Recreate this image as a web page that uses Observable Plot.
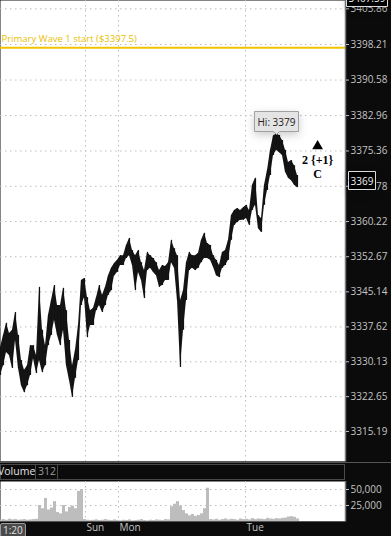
<!DOCTYPE html>
<html><head><meta charset="utf-8">
<script src="https://cdn.jsdelivr.net/npm/d3@7"></script>
<script src="https://cdn.jsdelivr.net/npm/@observablehq/plot@0.6"></script>
<style>
html,body{margin:0;padding:0;background:#0b0b0b;}
#wrap{position:relative;width:391px;height:536px;overflow:hidden;font-family:"Open Sans",sans-serif;}
#wrap svg{display:block;}
#volbar{position:relative;height:19px;background:#0b0b0b;border-top:1px solid #555;box-sizing:border-box;}
#volbar .box{position:absolute;left:0;top:1px;width:345px;height:16px;border:1px solid #4a4a4a;box-sizing:border-box;}
#volbar .name{position:absolute;left:-2px;top:0px;font-size:10.5px;line-height:16px;color:#e0e0e0;}
#volbar .sep{position:absolute;top:1px;width:1px;height:16px;background:#4a4a4a;}
#volbar .val{position:absolute;left:38px;top:0px;font-size:10.5px;line-height:16px;color:#9a9a9a;}
#timebox{position:absolute;left:0;top:523px;height:12px;padding:0 2px;background:#4a4a4a;border:1px solid #9a9a9a;border-radius:2px;font-size:10px;line-height:12px;color:#e0e0e0;}
</style></head>
<body><div id="wrap"></div>
<script>
// ---- data ----
const priceHigh = [3333.2,3335.8,3338.4,3336.2,3336.9,3340.7,3335.8,3330.4,3328.3,3329.3,
  3333.6,3333.6,3331.5,3346.1,3336.9,3333.6,3340.1,3343.3,3346.5,3342.2,
  3342.2,3345.9,3341.1,3334.7,3329.3,3332.6,3337.9,3347.6,3348.0,3343.9,
  3341.1,3341.6,3343.9,3346.5,3344.4,3346.1,3348.6,3350.2,3351.2,3351.9,
  3352.9,3352.9,3355.1,3356.6,3354.0,3352.9,3354.0,3351.4,3349.7,3353.6,
  3352.9,3352.3,3351.4,3349.7,3350.8,3350.6,3351.4,3356.2,3354.4,3352.9,
  3343.3,3345.4,3351.4,3353.6,3352.9,3352.9,3353.4,3356.2,3357.7,3355.5,
  3355.1,3352.9,3351.9,3350.8,3353.6,3354.0,3356.2,3361.5,3362.6,3363.0,
  3362.6,3363.2,3363.7,3362.6,3368.0,3369.5,3361.5,3360.9,3368.0,3371.2,
  3375.5,3378.6,3379.0,3378.7,3377.6,3375.5,3372.9,3373.3,3372.2,3370.1];
const priceLow = [3327.2,3329.3,3332.1,3331.5,3328.7,3334.7,3328.7,3325.0,3323.5,3325.0,
  3327.2,3330.8,3327.6,3330.4,3327.8,3329.3,3333.6,3335.8,3339.0,3335.8,
  3333.6,3336.9,3329.3,3326.1,3322.5,3326.6,3330.4,3342.2,3343.9,3335.3,
  3337.9,3337.9,3341.1,3342.2,3340.7,3342.2,3344.4,3345.4,3348.6,3349.3,
  3350.8,3350.8,3352.3,3352.9,3350.8,3345.4,3349.3,3347.6,3343.7,3349.7,
  3350.2,3349.3,3348.6,3346.1,3346.5,3347.6,3347.6,3351.4,3350.2,3343.3,
  3328.9,3336.9,3343.3,3349.7,3350.2,3349.7,3350.2,3351.4,3352.3,3352.3,
  3351.9,3350.4,3348.6,3348.2,3350.2,3350.8,3351.9,3356.2,3359.4,3360.0,
  3360.5,3360.5,3360.9,3359.4,3362.6,3363.7,3358.7,3357.9,3363.7,3366.9,
  3370.1,3374.4,3375.5,3375.0,3374.4,3370.8,3369.5,3369.0,3368.0,3367.5];
const volume = [2500,3000,2000,3500,2500,3000,2000,2500,3000,2000,
  2500,3000,3500,25000,20000,36000,18000,21000,31000,14000,
  12000,25000,15000,22000,24000,20000,47000,50000,3000,2000,
  1500,2000,2500,1500,2000,3000,2000,1500,2500,1500,
  1000,2000,1500,2500,1000,1500,2000,3000,1500,1000,
  2000,1500,2500,2000,1500,3000,2500,23000,27000,31000,
  24000,17000,12000,9000,11000,8000,9500,12000,20000,52000,
  3000,2500,3500,2000,3000,4000,2500,3500,3000,2000,
  4000,3000,3500,2500,4500,3000,4000,3500,3000,5000,
  4000,3500,4500,4000,5000,5500,7000,7500,6500,4000];
const priceTicks = [3405.86,3398.21,3390.58,3382.96,3375.36,3367.78,3360.22,3352.67,3345.14,3337.62,3330.13,3322.65,3315.19];
const volumeTicks = [25000, 50000];
const dayTicks = [28.33, 39.33, 81.67];
const dayLabels = ["Sun", "Mon", "Tue"];
const barSlots = 115;
const priceDomain = [3308.74, 3407.65];
const volumeDomain = [0, 62500];
const waveLevel = 3397.5;
const waveText = "Primary Wave 1 start ($3397.5)";
const hiValue = 3379;
const lastValue = 3369;
const topValue = 3407.59;
const waveMarks = [{i: 105.7, y: 3376.4}];
const waveLabels = [{i: 105.7, y: 3373.4, t: "2 {+1}"}, {i: 105.7, y: 3370.3, t: "C"}];
const volumeNow = 312;
const startTime = "1:20";

// ---- build ----
const bars = priceHigh.map((h, i) => ({i, hi: h, lo: priceLow[i], vol: volume[i]}));
const hiIdx = d3.maxIndex(priceHigh);
const dayMap = new Map(dayTicks.map((d, k) => [d, dayLabels[k]]));
const dotted = {stroke: "#bdbdbd", strokeOpacity: 1, strokeDasharray: "1.5,3.5"};
const baseStyle = {background: "#0b0b0b", fontFamily: "Open Sans, sans-serif", fontSize: "10px", color: "#c4c4c4"};

const price = Plot.plot({
  width: 391, height: 462, marginTop: 0, marginBottom: 1, marginLeft: 0, marginRight: 46,
  style: baseStyle,
  x: {domain: [0, barSlots], axis: null, label: null},
  y: {domain: priceDomain, axis: null, label: null},
  marks: [
    Plot.frame({fill: "#fff", stroke: null}),
    Plot.gridX(dayTicks, dotted),
    Plot.gridY(priceTicks, dotted),
    Plot.ruleY([waveLevel], {stroke: "#efc300", strokeWidth: 2}),
    Plot.text([{t: waveText, y: waveLevel}], {text: "t", y: "y", frameAnchor: "left", textAnchor: "start", dx: 1, dy: -9, fill: "#e9c000", fontSize: 9.5}),
    Plot.areaY(bars, {x: "i", y1: "lo", y2: "hi", fill: "#161616"}),
    Plot.ruleX(bars, {x: "i", y1: "lo", y2: "hi", stroke: "#111", strokeWidth: 1.2}),
    Plot.ruleX([barSlots], {stroke: "#7a7a7a", strokeWidth: 1.5}),
    Plot.ruleY([priceDomain[0]], {stroke: "#555"}),
    Plot.axisY(priceTicks, {anchor: "right", label: null, tickSize: 3, tickPadding: 2, tickFormat: d => d.toFixed(2), color: "#c4c4c4", fontSize: 10}),
    Plot.dot(waveMarks, {x: "i", y: "y", symbol: "triangle", r: 4, fill: "#000", stroke: null}),
    Plot.text(waveLabels, {x: "i", y: "y", text: "t", fontFamily: "Liberation Serif, serif", fontWeight: "bold", fontSize: 12, fill: "#000"}),
    Plot.tip([{i: hiIdx, y: hiValue}], {x: "i", y: "y", title: d => `Hi: ${d.y}`, anchor: "bottom", fill: "#e4e4e4", stroke: "#a0a0a0", fontSize: 10, textPadding: 3, pointerSize: 6}),
    Plot.tip([{y: lastValue}], {x: () => barSlots, y: "y", title: d => `${d.y}`, anchor: "left", pointerSize: 0, dx: 3, fill: "#000", stroke: "#dcdcdc", fontSize: 10, textPadding: 2}),
    Plot.tip([{y: topValue}], {x: () => barSlots, y: "y", title: d => `${d.y}`, anchor: "left", pointerSize: 0, dx: 1, dy: -3, fill: "#000", stroke: "#dcdcdc", fontSize: 10, textPadding: 2})
  ]
});
const tips = d3.select(price).selectAll('g[aria-label="tip"]').nodes();
tips.forEach((g, k) => d3.select(g).selectAll("text, tspan").attr("fill", k === 0 ? "#222" : "#f0f0f0"));

const vol = Plot.plot({
  width: 391, height: 55, marginTop: 0, marginBottom: 15, marginLeft: 0, marginRight: 46,
  style: baseStyle,
  x: {domain: [0, barSlots], axis: null, label: null},
  y: {domain: volumeDomain, axis: null, label: null},
  marks: [
    Plot.frame({fill: "#fff", stroke: null}),
    Plot.gridX(dayTicks, dotted),
    Plot.gridY(volumeTicks, dotted),
    Plot.ruleX(bars, {x: "i", y: "vol", stroke: "#bdbdbd", strokeWidth: 3}),
    Plot.ruleX([barSlots], {stroke: "#7a7a7a", strokeWidth: 1.5}),
    Plot.ruleY([0], {stroke: "#555"}),
    Plot.axisY(volumeTicks, {anchor: "right", label: null, tickSize: 3, tickPadding: 2, tickFormat: d3.format(","), color: "#c4c4c4", fontSize: 10}),
    Plot.axisX(dayTicks, {anchor: "bottom", label: null, tickSize: 0, tickPadding: 2, tickFormat: d => dayMap.get(d), textAnchor: "start", dx: 1, color: "#c4c4c4", fontSize: 10})
  ]
});

const wrap = document.getElementById("wrap");
wrap.appendChild(price);
const bar = document.createElement("div");
bar.id = "volbar";
bar.innerHTML = `<div class="box"></div><div class="name">Volume</div><div class="sep" style="left:35px"></div><div class="val">${volumeNow}</div><div class="sep" style="left:57px"></div>`;
wrap.appendChild(bar);
wrap.appendChild(vol);
const tb = document.createElement("div");
tb.id = "timebox";
tb.textContent = startTime;
wrap.appendChild(tb);
</script>
</body></html>
